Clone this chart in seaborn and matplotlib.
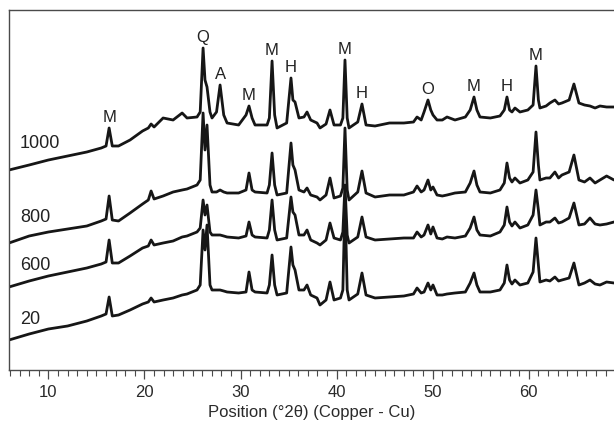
import pandas as pd
import matplotlib
matplotlib.use("Agg")
import matplotlib.pyplot as plt
from matplotlib.ticker import MultipleLocator
import seaborn as sns

# diffraction angle (deg 2theta), shared by all four patterns
two_theta = [
    5.9, 8.0, 10.0, 12.0, 14.0, 15.5, 16.0, 16.32, 16.65, 17.3,
    18.5, 19.8, 20.4, 20.69, 21.0, 21.94, 22.98, 23.92, 24.43, 25.47,
    25.8, 26.10, 26.3, 26.51, 26.82, 27.03, 27.5, 27.87, 28.25, 28.60,
    29.8, 30.57, 30.88, 31.2, 31.51, 32.76, 33.0, 33.28, 33.55, 33.80,
    34.8, 35.25, 35.45, 35.67, 36.08, 36.6, 36.92, 37.3, 37.96, 38.27,
    38.9, 39.31, 39.73, 40.4, 40.65, 40.87, 41.1, 41.29, 42.2, 42.64,
    43.06, 44.0, 45.5, 47.0, 48.0, 48.37, 48.8, 49.1, 49.51, 49.8,
    50.03, 50.45, 51.0, 51.49, 52.32, 53.4, 53.9, 54.30, 54.6, 54.92,
    56.0, 57.0, 57.45, 57.73, 58.0, 58.25, 58.56, 59.08, 59.9, 60.45,
    60.75, 61.0, 61.16, 61.8, 62.2, 62.72, 63.1, 63.45, 64.2, 64.70,
    65.22, 65.8, 66.37, 66.9, 67.41, 68.1, 68.87,
]

# stacked intensities (arbitrary units, offsets included)
i_1000 = [
    200, 205, 210, 214, 218, 222, 224, 242, 224, 224,
    230, 239, 242, 246, 243, 252, 250, 257, 252, 253,
    258, 322, 290, 283, 258, 252, 258, 285, 255, 247,
    245, 255, 264, 252, 245, 245, 252, 309, 255, 242,
    247, 292, 270, 268, 252, 253, 258, 250, 247, 242,
    246, 260, 245, 245, 252, 310, 252, 242, 248, 266,
    245, 244, 247, 247, 248, 253, 250, 258, 270, 260,
    255, 250, 250, 253, 250, 253, 260, 273, 260, 253,
    252, 254, 260, 273, 260, 258, 262, 258, 260, 265,
    304, 270, 262, 264, 267, 270, 266, 267, 270, 286,
    267, 265, 264, 262, 264, 263, 263,
]
i_800 = [
    127, 134, 138, 141, 144, 149, 151, 174, 150, 149,
    157, 166, 170, 179, 171, 174, 178, 180, 181, 185,
    190, 257, 220, 245, 185, 178, 178, 180, 178, 177,
    177, 180, 197, 180, 178, 177, 185, 217, 185, 175,
    177, 227, 205, 200, 180, 178, 182, 175, 173, 170,
    175, 192, 172, 174, 182, 242, 180, 170, 178, 199,
    177, 173, 175, 175, 178, 184, 178, 180, 190, 180,
    183, 175, 174, 175, 177, 178, 187, 199, 185, 178,
    177, 180, 187, 207, 192, 188, 192, 187, 190, 198,
    238, 205, 190, 192, 192, 198, 192, 195, 198, 215,
    190, 188, 192, 187, 190, 194, 190,
]
i_600 = [
    83, 89, 94, 98, 102, 106, 108, 130, 107, 107,
    114, 122, 124, 130, 125, 127, 129, 133, 134, 138,
    142, 170, 155, 165, 138, 135, 135, 135, 134, 133,
    132, 134, 148, 135, 133, 132, 140, 170, 140, 130,
    132, 173, 158, 155, 135, 135, 140, 130, 127, 125,
    130, 147, 132, 130, 138, 185, 135, 127, 133, 153,
    133, 130, 131, 132, 132, 138, 133, 135, 145, 136,
    143, 132, 131, 133, 132, 134, 142, 153, 140, 135,
    134, 138, 145, 163, 148, 144, 148, 142, 145, 155,
    180, 160, 145, 148, 148, 152, 147, 148, 152, 167,
    145, 146, 152, 146, 145, 146, 148,
]
i_20 = [
    30, 36, 41, 44, 49, 54, 56, 73, 54, 55,
    60, 66, 68, 72, 68, 70, 72, 75, 76, 80,
    85, 140, 120, 145, 85, 80, 80, 80, 79, 78,
    77, 78, 98, 80, 78, 77, 85, 115, 85, 75,
    77, 123, 105, 100, 80, 80, 85, 75, 72, 65,
    70, 88, 70, 72, 80, 170, 80, 70, 76, 97,
    75, 72, 73, 74, 76, 82, 77, 78, 87, 80,
    85, 75, 75, 76, 77, 78, 87, 97, 85, 78,
    78, 80, 87, 105, 90, 86, 90, 85, 87, 98,
    132, 105, 88, 90, 89, 93, 89, 90, 92, 107,
    85, 87, 90, 86, 85, 88, 87,
]

samples = ["1000", "800", "600", "20"]

# phase labels on the top pattern
peak_names = ["M", "Q", "A", "M", "M", "H", "M", "H", "O", "M", "H", "M"]
peak_pos = [16.32, 26.10, 27.87, 30.88, 33.28, 35.25, 40.87, 42.64,
            49.51, 54.30, 57.73, 60.75]

df = pd.DataFrame({
    "two_theta": two_theta * 4,
    "intensity": i_1000 + i_800 + i_600 + i_20,
    "sample": [s for s in samples for _ in two_theta],
})

sns.set_theme(style="ticks")
plt.rcParams["font.family"] = ["Liberation Sans", "DejaVu Sans"]

fig = plt.figure(figsize=(6.14, 4.28), dpi=100)
ax = fig.add_axes([9 / 614, 58 / 428, 605 / 614, 360 / 428])

sns.lineplot(
    data=df, x="two_theta", y="intensity", hue="sample",
    palette=["#161616"] * 4, estimator=None, sort=False,
    linewidth=2.0, legend=False, ax=ax,
)

ax.set_xlim(5.9, 68.87)
ax.set_ylim(0, 360)
ax.set_yticks([])
ax.set_ylabel("")
ax.spines["right"].set_visible(False)
for side in ["left", "top", "bottom"]:
    ax.spines[side].set_color("#4a4a4a")
    ax.spines[side].set_linewidth(1.0)

ax.xaxis.set_major_locator(MultipleLocator(10))
ax.xaxis.set_minor_locator(MultipleLocator(1))
ax.tick_params(axis="x", which="major", direction="out", length=6.5,
               width=0.9, color="#4a4a4a", labelsize=12,
               labelcolor="#2a2a2a", pad=4)
ax.tick_params(axis="x", which="minor", direction="out", length=4.3,
               width=0.8, color="#4a4a4a")
ax.set_xlabel("Position (°2θ) (Copper - Cu)", fontsize=12,
              color="#2a2a2a", labelpad=4)

# sample names
label_y = [226, 152, 105, 50]
for name, y in zip(samples, label_y):
    ax.text(7.05, y, name, ha="left", va="center", fontsize=13,
            color="#222222")

# peak letters above the 1000 pattern
for name, pos in zip(peak_names, peak_pos):
    top = i_1000[two_theta.index(pos)]
    ax.annotate(name, (pos, top), xytext=(0, 4.3),
                textcoords="offset points", ha="center", va="baseline",
                fontsize=12, color="#222222")

fig.savefig("out.png", dpi=100)
